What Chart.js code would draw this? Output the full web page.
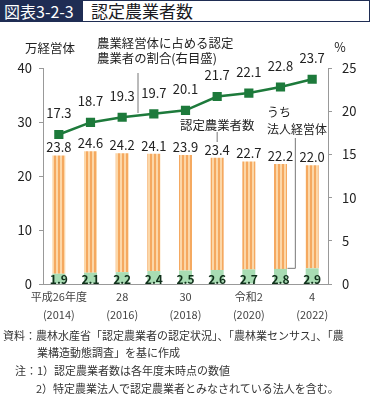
<!DOCTYPE html>
<html>
<head>
<meta charset="utf-8">
<script src="https://cdn.jsdelivr.net/npm/chart.js@4"></script>
<style>
  body { margin: 0; width: 370px; height: 394px; background: #fff; position: relative; overflow: hidden;
         font-family: "Noto Sans CJK JP", "Noto Sans", sans-serif; }
  .titlebar { position: absolute; left: 0; top: 0; width: 368px; height: 20px; border: 1px solid #1f2d54; }
  .titlebar .tag { position: absolute; left: 0; top: 0; width: 82px; height: 20px; background: #1f2d54;
         color: #fff; font-size: 16px; line-height: 20px; padding-left: 3px; box-sizing: border-box; }
  .titlebar .name { position: absolute; left: 90px; top: 0; font-size: 17px; line-height: 20px; color: #1a1a22; }
  #wrap { position: absolute; left: 0; top: 22px; width: 370px; height: 306px; }
  .note { position: absolute; font-size: 11px; color: #333; white-space: nowrap; line-height: 14px; }
</style>
</head>
<body>
<div class="titlebar"><div class="tag">図表3-2-3</div><div class="name">認定農業者数</div></div>
<div id="wrap"><canvas id="chart" width="370" height="306"></canvas></div>
<div class="note" style="left:3px; top:328px;">資料：農林水産省「認定農業者の認定状況」、「農林業センサス」、「農</div>
<div class="note" style="left:37px; top:345px;">業構造動態調査」を基に作成</div>
<div class="note" style="left:15px; top:363px;">注：1）認定農業者数は各年度末時点の数値</div>
<div class="note" style="left:36px; top:381px;">2）特定農業法人で認定農業者とみなされている法人を含む。</div>

<script>
// ===== DATA =====
const years = ["2014", "2015", "2016", "2017", "2018", "2019", "2020", "2021", "2022"];
const eraLabels = ["平成26年度", "", "28", "", "30", "", "令和2", "", "4"];
const yearLabels = ["(2014)", "", "(2016)", "", "(2018)", "", "(2020)", "", "(2022)"];

// 認定農業者数 (万経営体)
const totalFarmers = [23.8, 24.6, 24.2, 24.1, 23.9, 23.4, 22.7, 22.2, 22.0];
// うち法人経営体 (万経営体)
const corpFarmers = [1.9, 2.1, 2.2, 2.4, 2.5, 2.6, 2.7, 2.8, 2.9];
// 農業経営体に占める認定農業者の割合 (%)
const shareOfAll = [17.3, 18.7, 19.3, 19.7, 20.1, 21.7, 22.1, 22.8, 23.7];

const otherFarmers = totalFarmers.map((t, i) => +(t - corpFarmers[i]).toFixed(1));

const FONT = '"Noto Sans CJK JP", "Noto Sans", sans-serif';

// striped orange fill
function stripePattern() {
    const c = document.createElement("canvas");
    c.width = 4;
    c.height = 4;
    const g = c.getContext("2d");
    g.fillStyle = "#fcd7a8";
    g.fillRect(0, 0, 4, 4);
    g.fillStyle = "#f5a960";
    g.fillRect(2, 0, 2, 4);
    return g.createPattern(c, "repeat");
}

const ctx = document.getElementById("chart").getContext("2d");

// ===== LABELS + ANNOTATIONS =====
const labelPlugin = {
    id: "labels",
    afterDatasetsDraw(chart) {
        const g = chart.ctx;
        const xs = chart.scales.x;
        const y = chart.scales.y;
        const y2 = chart.scales.y2;
        const area = chart.chartArea;
        g.save();
        g.textAlign = "center";
        g.textBaseline = "middle";

        // bar totals
        g.font = "13px " + FONT;
        g.fillStyle = "#222";
        totalFarmers.forEach((v, i) => {
            g.fillText(v.toFixed(1), xs.getPixelForValue(i), y.getPixelForValue(v) - 8);
        });

        // corporate values
        g.font = "bold 12px " + FONT;
        g.fillStyle = "#10301b";
        corpFarmers.forEach((v, i) => {
            g.fillText(v.toFixed(1), xs.getPixelForValue(i), y.getPixelForValue(0) - 5);
        });

        // line labels
        g.font = "13px " + FONT;
        g.fillStyle = "#222";
        shareOfAll.forEach((v, i) => {
            g.fillText(v.toFixed(1), xs.getPixelForValue(i), y2.getPixelForValue(v) - 21);
        });

        // axis titles
        g.font = "12.5px " + FONT;
        g.fillStyle = "#222";
        g.fillText("万経営体", 50, area.top - 20);
        g.fillText("%", 340, area.top - 21);

        // annotations
        g.textAlign = "left";
        g.font = "12.4px " + FONT;
        g.fillText("農業経営体に占める認定", 97, area.top - 25);
        g.fillText("農業者の割合(右目盛)", 97, area.top - 10);

        g.textAlign = "center";
        g.fillText("認定農業者数", xs.getPixelForValue(5), area.top + 57);

        g.textAlign = "left";
        g.font = "12px " + FONT;
        g.fillText("うち", 267, area.top + 44);
        g.fillText("法人経営体", 267, area.top + 61);

        // leader lines
        g.strokeStyle = "#777";
        g.lineWidth = 1;
        g.beginPath();
        const mx = (xs.getPixelForValue(2) + xs.getPixelForValue(3)) / 2;
        g.moveTo(mx, area.top + 5);
        g.lineTo(mx, area.top + 45);
        const x6 = xs.getPixelForValue(5);
        g.moveTo(x6, area.top + 64);
        g.lineTo(x6, area.top + 74);
        const lx = (xs.getPixelForValue(7) + xs.getPixelForValue(8)) / 2 - 1;
        g.moveTo(lx, area.top + 70);
        g.lineTo(lx, y.getPixelForValue(2.9));
        g.lineTo(xs.getPixelForValue(7) + 7, y.getPixelForValue(2.9));
        g.stroke();
        g.restore();
    },
};

// ===== CHART =====
new Chart(ctx, {
    data: {
        labels: years,
        datasets: [
            {
                type: "line",
                label: "割合",
                data: shareOfAll,
                yAxisID: "y2",
                borderColor: "#1d7a3b",
                backgroundColor: "#1d7a3b",
                borderWidth: 2.5,
                pointStyle: "rect",
                pointRadius: 6.5,
                pointBorderWidth: 0,
                order: 0,
            },
            {
                type: "bar",
                label: "法人経営体",
                data: corpFarmers,
                yAxisID: "y",
                backgroundColor: "#a8dcb3",
                stack: "s",
                barPercentage: 0.41,
                categoryPercentage: 1,
                order: 1,
            },
            {
                type: "bar",
                label: "認定農業者数",
                data: otherFarmers,
                yAxisID: "y",
                backgroundColor: stripePattern(),
                stack: "s",
                barPercentage: 0.41,
                categoryPercentage: 1,
                order: 1,
            },
        ],
    },
    options: {
        responsive: false,
        animation: false,
        layout: { padding: { top: 46, left: 0, right: 0, bottom: 0 } },
        plugins: { legend: { display: false }, tooltip: { enabled: false } },
        scales: {
            x: {
                stacked: true,
                grid: { display: true, drawOnChartArea: false, drawTicks: false },
                border: { color: "#999" },
                ticks: {
                    autoSkip: false,
                    maxRotation: 0,
                    padding: 4,
                    color: "#444",
                    font: { family: FONT, size: 11, lineHeight: "18px" },
                    callback: (v, i) => (eraLabels[i] ? [eraLabels[i], yearLabels[i]] : ""),
                },
                afterFit(scale) {
                    scale.height = 44;
                },
            },
            y: {
                stacked: true,
                position: "left",
                min: 0,
                max: 40,
                grid: { drawOnChartArea: false, tickLength: 4, color: "#999" },
                border: { color: "#999" },
                ticks: { stepSize: 10, padding: 7, color: "#222", font: { family: FONT, size: 13 } },
                afterFit(scale) {
                    scale.width = 43;
                },
            },
            y2: {
                position: "right",
                min: 0,
                max: 25,
                grid: { drawOnChartArea: false, tickLength: 4, color: "#999" },
                border: { color: "#999" },
                ticks: { stepSize: 5, padding: 10, color: "#222", font: { family: FONT, size: 13 } },
                afterFit(scale) {
                    scale.width = 42;
                },
            },
        },
    },
    plugins: [labelPlugin],
});
</script>
</body>
</html>
